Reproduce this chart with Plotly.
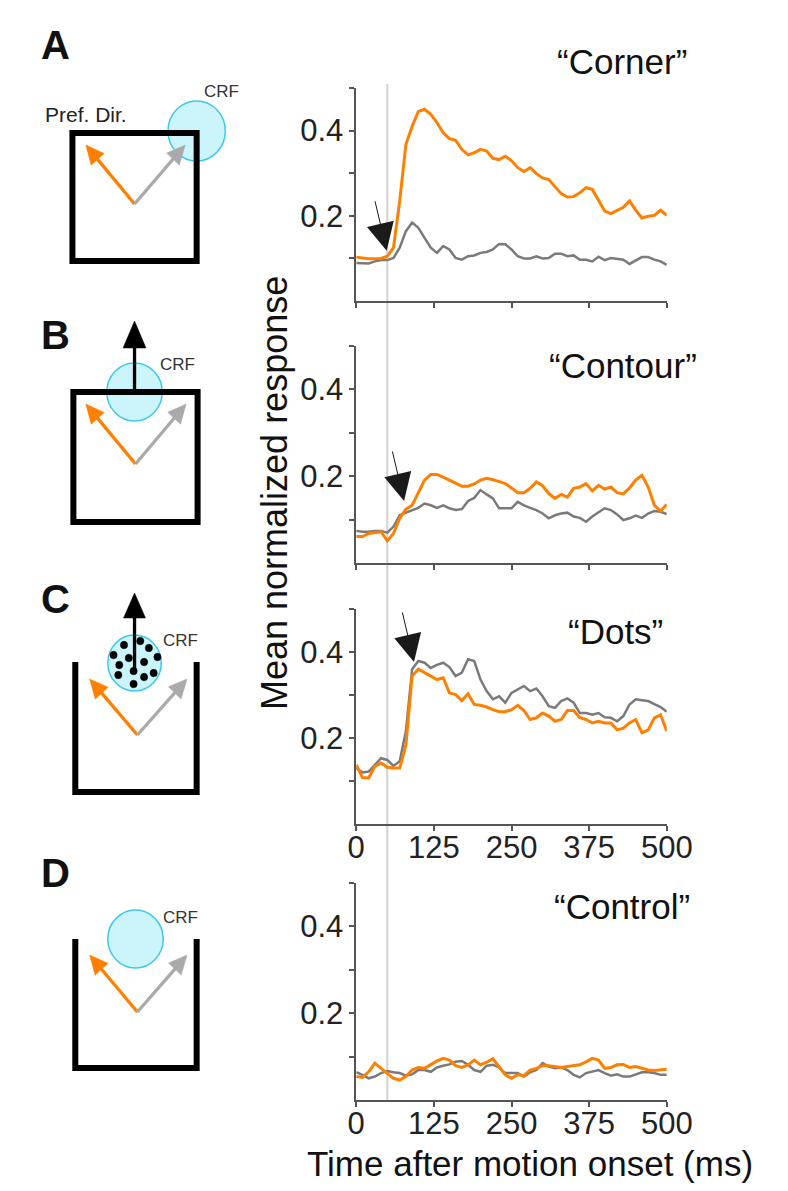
import math
import plotly.graph_objects as go

W, H = 788, 1191
FONT = "Liberation Sans, Arial, Helvetica, sans-serif"

# ---- data ----
time_ms = list(range(0, 510, 10))

corner_orange = [0.103, 0.101, 0.099, 0.099, 0.100, 0.105, 0.125, 0.235, 0.368, 0.410,
                 0.445, 0.450, 0.438, 0.419, 0.395, 0.381, 0.377, 0.356, 0.343, 0.348,
                 0.356, 0.352, 0.335, 0.332, 0.340, 0.329, 0.313, 0.304, 0.313, 0.299,
                 0.289, 0.285, 0.268, 0.252, 0.244, 0.245, 0.254, 0.266, 0.262, 0.235,
                 0.211, 0.205, 0.213, 0.220, 0.235, 0.213, 0.195, 0.199, 0.201, 0.213,
                 0.201]
corner_gray = [0.089, 0.089, 0.088, 0.093, 0.096, 0.096, 0.101, 0.125, 0.164, 0.184,
               0.172, 0.148, 0.125, 0.113, 0.129, 0.121, 0.101, 0.097, 0.105, 0.107,
               0.113, 0.115, 0.121, 0.134, 0.133, 0.121, 0.105, 0.100, 0.100, 0.105,
               0.100, 0.101, 0.111, 0.111, 0.105, 0.107, 0.097, 0.097, 0.093, 0.104,
               0.096, 0.101, 0.099, 0.097, 0.087, 0.095, 0.103, 0.103, 0.097, 0.093,
               0.085]

contour_orange = [0.061, 0.061, 0.068, 0.070, 0.072, 0.051, 0.068, 0.103, 0.124, 0.133,
                  0.164, 0.191, 0.204, 0.204, 0.198, 0.191, 0.183, 0.177, 0.177, 0.182,
                  0.191, 0.195, 0.192, 0.187, 0.183, 0.173, 0.162, 0.162, 0.172, 0.187,
                  0.178, 0.160, 0.149, 0.158, 0.152, 0.172, 0.175, 0.183, 0.166, 0.179,
                  0.170, 0.175, 0.162, 0.159, 0.173, 0.191, 0.202, 0.175, 0.133, 0.120,
                  0.135]
contour_gray = [0.074, 0.072, 0.072, 0.074, 0.074, 0.070, 0.084, 0.110, 0.116, 0.122,
                0.127, 0.137, 0.133, 0.127, 0.133, 0.126, 0.122, 0.124, 0.143, 0.150,
                0.168, 0.158, 0.149, 0.126, 0.126, 0.126, 0.141, 0.133, 0.127, 0.122,
                0.114, 0.103, 0.110, 0.114, 0.116, 0.107, 0.104, 0.095, 0.107, 0.116,
                0.126, 0.122, 0.112, 0.099, 0.103, 0.109, 0.104, 0.114, 0.120, 0.118,
                0.113]

dots_orange = [0.138, 0.108, 0.107, 0.134, 0.142, 0.132, 0.130, 0.130, 0.184, 0.344,
               0.360, 0.352, 0.344, 0.336, 0.340, 0.305, 0.301, 0.287, 0.303, 0.278,
               0.276, 0.272, 0.266, 0.261, 0.261, 0.266, 0.276, 0.264, 0.243, 0.247,
               0.258, 0.251, 0.239, 0.243, 0.264, 0.264, 0.247, 0.243, 0.235, 0.239,
               0.235, 0.235, 0.219, 0.223, 0.235, 0.243, 0.212, 0.219, 0.247, 0.254,
               0.216]
dots_gray = [0.130, 0.120, 0.122, 0.138, 0.153, 0.149, 0.135, 0.146, 0.216, 0.360,
             0.379, 0.375, 0.363, 0.370, 0.375, 0.365, 0.344, 0.352, 0.383, 0.379,
             0.336, 0.309, 0.290, 0.297, 0.282, 0.305, 0.313, 0.321, 0.309, 0.315,
             0.297, 0.274, 0.270, 0.286, 0.292, 0.282, 0.258, 0.258, 0.254, 0.258,
             0.248, 0.247, 0.239, 0.251, 0.278, 0.290, 0.288, 0.286, 0.279, 0.272,
             0.261]

control_orange = [0.054, 0.052, 0.065, 0.085, 0.073, 0.062, 0.050, 0.046, 0.054, 0.069,
                  0.075, 0.073, 0.082, 0.090, 0.096, 0.092, 0.079, 0.075, 0.081, 0.092,
                  0.081, 0.087, 0.095, 0.077, 0.058, 0.050, 0.058, 0.056, 0.069, 0.073,
                  0.079, 0.079, 0.077, 0.075, 0.077, 0.079, 0.081, 0.088, 0.096, 0.092,
                  0.073, 0.075, 0.081, 0.082, 0.075, 0.077, 0.073, 0.069, 0.068, 0.069,
                  0.071]
control_gray = [0.064, 0.058, 0.050, 0.054, 0.062, 0.067, 0.064, 0.062, 0.056, 0.059,
                0.069, 0.069, 0.065, 0.075, 0.079, 0.082, 0.088, 0.090, 0.081, 0.069,
                0.065, 0.079, 0.081, 0.075, 0.062, 0.062, 0.062, 0.054, 0.064, 0.069,
                0.085, 0.077, 0.073, 0.075, 0.069, 0.058, 0.052, 0.062, 0.065, 0.069,
                0.062, 0.056, 0.059, 0.054, 0.054, 0.059, 0.064, 0.064, 0.062, 0.058,
                0.058]

panel_titles = ["\u201cCorner\u201d", "\u201cContour\u201d", "\u201cDots\u201d", "\u201cControl\u201d"]
panel_letters = ["A", "B", "C", "D"]
x_ticks = [0, 125, 250, 375, 500]
y_ticks = [0.1, 0.2, 0.3, 0.4, 0.5]
y_ticktext = ["", "0.2", "", "0.4", ""]
onset_ms = 50
# latency arrows: (time, value) of the tip for panels A-C
latency_tips = [(49, 0.118), (77, 0.143), (93, 0.377)]

series = [(corner_orange, corner_gray), (contour_orange, contour_gray),
          (dots_orange, dots_gray), (control_orange, control_gray)]

ORANGE = "#ff8000"
GRAY = "#7a7a7a"
CYAN_EDGE = "#3cc8ea"
CYAN_FILL = "#cbf4fb"


def px(x):
    return x / W


def py(y):
    return 1 - y / H


# pixel boxes of the four plots (bottom, top)
plot_left, plot_right = 355, 680
plot_rows = [(293, 80), (555, 338), (816, 601), (1092, 875)]
title_pos = [(703, 54), (714, 357), (678, 623), (706, 898)]
letter_pos = [(40, 37), (40, 327), (40, 591), (40, 865)]

fig = go.Figure()
layout = dict(width=W, height=H, margin=dict(l=0, r=0, t=0, b=0),
              paper_bgcolor="white", plot_bgcolor="rgba(0,0,0,0)",
              showlegend=False, font=dict(family=FONT, color="#222"))

annotations = []
shapes = []

for i, (orange, gray) in enumerate(series):
    n = "" if i == 0 else str(i + 1)
    fig.add_trace(go.Scatter(x=time_ms, y=gray, mode="lines", xaxis="x" + n, yaxis="y" + n,
                             line=dict(color=GRAY, width=2.5), hoverinfo="skip"))
    fig.add_trace(go.Scatter(x=time_ms, y=orange, mode="lines", xaxis="x" + n, yaxis="y" + n,
                             line=dict(color=ORANGE, width=3), hoverinfo="skip"))
    bot, top = plot_rows[i]
    show_x = i >= 2
    layout["xaxis" + n] = dict(
        domain=[px(plot_left), px(plot_right)], anchor="y" + n, range=[0, 500],
        showline=True, linecolor="#555", linewidth=1.5, ticks="outside", ticklen=5,
        tickwidth=1.5, tickcolor="#555", tickvals=x_ticks, showticklabels=show_x,
        ticklabelstandoff=-10,
        tickfont=dict(size=31, color="#222"), showgrid=False, zeroline=False)
    layout["yaxis" + n] = dict(
        domain=[py(bot), py(top)], anchor="x" + n, range=[0, 0.5],
        showline=True, linecolor="#555", linewidth=1.5, ticks="outside", ticklen=5,
        tickwidth=1.5, tickcolor="#555", tickvals=y_ticks, ticktext=y_ticktext,
        tickfont=dict(size=31, color="#222"), showgrid=False, zeroline=False)

    tx, ty = title_pos[i]
    annotations.append(dict(text=panel_titles[i], x=px(tx), y=py(ty), xref="paper", yref="paper",
                            xanchor="right", yanchor="middle", showarrow=False,
                            font=dict(size=35, color="#111")))
    lx, ly = letter_pos[i]
    annotations.append(dict(text="<b>%s</b>" % panel_letters[i], x=px(lx), y=py(ly),
                            xref="paper", yref="paper", xanchor="center", yanchor="middle",
                            showarrow=False, font=dict(size=40, color="#111")))

for i, (t, v) in enumerate(latency_tips):
    n = "" if i == 0 else str(i + 1)
    annotations.append(dict(x=t, y=v, xref="x" + n, yref="y" + n, text="", showarrow=True,
                            ax=-12, ay=-51, arrowhead=2, arrowsize=5.5, arrowwidth=1,
                            arrowcolor="#1a1a1a"))

# stimulus-onset line through all panels
shapes.append(dict(type="line", xref="x", yref="paper", x0=onset_ms, x1=onset_ms,
                   y0=py(1092), y1=py(76), line=dict(color="#d2d2d2", width=2), layer="below"))

annotations.append(dict(text="Mean normalized response", x=px(270), y=py(485),
                        xref="paper", yref="paper", textangle=-90, showarrow=False,
                        xanchor="center", yanchor="middle", font=dict(size=36, color="#111")))
annotations.append(dict(text="Time after motion onset (ms)", x=px(537), y=py(1155),
                        xref="paper", yref="paper", showarrow=False,
                        xanchor="center", yanchor="middle", font=dict(size=35, color="#111")))


# ---- schematic stimuli on the left ----
def circle(cx, cy, r, fill, edge, lw):
    shapes.append(dict(type="circle", xref="paper", yref="paper",
                       x0=px(cx - r), x1=px(cx + r), y0=py(cy + r), y1=py(cy - r),
                       fillcolor=fill, line=dict(color=edge, width=lw)))


def seg(x0, y0, x1, y1, color, lw):
    shapes.append(dict(type="line", xref="paper", yref="paper",
                       x0=px(x0), y0=py(y0), x1=px(x1), y1=py(y1),
                       line=dict(color=color, width=lw)))


def arrow(x0, y0, x1, y1, color, lw, hl, hw):
    dx, dy = x1 - x0, y1 - y0
    L = math.hypot(dx, dy)
    ux, uy = dx / L, dy / L
    bx, by = x1 - ux * hl, y1 - uy * hl
    nx, ny = -uy, ux
    seg(x0, y0, bx + ux * 2, by + uy * 2, color, lw)
    path = "M %f,%f L %f,%f L %f,%f Z" % (
        px(x1), py(y1),
        px(bx + nx * hw / 2), py(by + ny * hw / 2),
        px(bx - nx * hw / 2), py(by - ny * hw / 2))
    shapes.append(dict(type="path", xref="paper", yref="paper", path=path,
                       fillcolor=color, line=dict(color=color, width=0.5)))


def crf(x, y):
    annotations.append(dict(text="CRF", x=px(x), y=py(y), xref="paper", yref="paper",
                            showarrow=False, xanchor="center", yanchor="middle",
                            font=dict(size=17, color="#333")))


# A: square with circle on its corner
circle(188, 123, 30, CYAN_FILL, CYAN_EDGE, 1.5)
shapes.append(dict(type="rect", xref="paper", yref="paper", x0=px(58), x1=px(188),
                   y0=py(253), y1=py(125), line=dict(color="black", width=6)))
arrow(123, 196, 72, 137, ORANGE, 3.3, 19, 18)
arrow(123, 196, 176, 137, "#aaaaaa", 3.3, 19, 18)
crf(214, 84)
annotations.append(dict(text="Pref. Dir.", x=px(72), y=py(106), xref="paper", yref="paper",
                        showarrow=False, xanchor="center", yanchor="middle",
                        font=dict(size=21, color="#222")))

# B: square with circle on its top edge
circle(123, 384, 29, CYAN_FILL, CYAN_EDGE, 1.5)
shapes.append(dict(type="rect", xref="paper", yref="paper", x0=px(59), x1=px(189),
                   y0=py(514), y1=py(384), line=dict(color="black", width=6)))
arrow(123, 384, 123, 313, "black", 3.3, 27, 24)
arrow(124, 456, 72, 396, ORANGE, 3.3, 19, 18)
arrow(124, 456, 177, 396, "#aaaaaa", 3.3, 19, 18)
crf(168, 356)

# C: open box with dot field
circle(123, 655, 28, CYAN_FILL, CYAN_EDGE, 1.5)
shapes.append(dict(type="path", xref="paper", yref="paper",
                   path="M %f,%f L %f,%f L %f,%f L %f,%f" % (px(61), py(654), px(61), py(784),
                                                           px(188), py(784), px(188), py(654)),
                   line=dict(color="black", width=6)))
dot_xy = [(112, 637), (129, 633), (138, 640), (101, 647), (117, 650), (147, 649), (133, 654),
          (107, 657), (143, 665), (106, 667), (122, 663), (133, 669), (122, 676)]
for dx_, dy_ in dot_xy:
    circle(dx_, dy_, 3.8, "black", "black", 0.5)
arrow(123, 660, 123, 585, "black", 3.3, 25, 23)
arrow(126, 727, 76, 671, ORANGE, 3.3, 19, 18)
arrow(126, 727, 178, 671, "#aaaaaa", 3.3, 19, 18)
crf(171, 632)

# D: open box, circle inside
circle(124, 931, 29, CYAN_FILL, CYAN_EDGE, 1.5)
shapes.append(dict(type="path", xref="paper", yref="paper",
                   path="M %f,%f L %f,%f L %f,%f L %f,%f" % (px(61), py(931), px(61), py(1060),
                                                           px(188), py(1060), px(188), py(931)),
                   line=dict(color="black", width=6)))
arrow(126, 1004, 76, 947, ORANGE, 3.3, 19, 18)
arrow(126, 1004, 178, 947, "#aaaaaa", 3.3, 19, 18)
crf(171, 909)

layout["annotations"] = annotations
layout["shapes"] = shapes
fig.update_layout(**layout)
fig.write_html("out.html")
